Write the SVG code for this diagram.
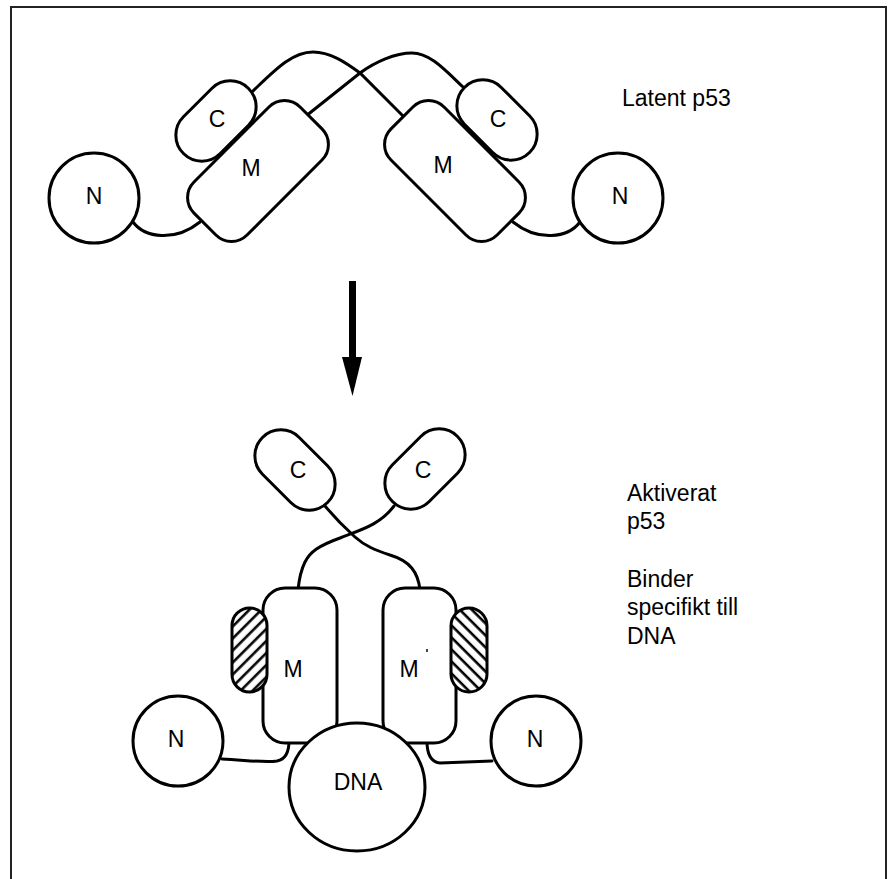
<svg xmlns="http://www.w3.org/2000/svg" width="890" height="879" viewBox="0 0 890 879">
<style>
.shape{fill:#fff;stroke:#000;stroke-width:3}
.line{fill:none;stroke:#000;stroke-width:3;stroke-linecap:round}
.lbl{font-family:"Liberation Sans",Arial,Helvetica,sans-serif;font-size:23px;fill:#000;text-anchor:middle}
.txt{font-family:"Liberation Sans",Arial,Helvetica,sans-serif;font-size:23px;fill:#000}
</style>
<defs>
<pattern id="hatchL" patternUnits="userSpaceOnUse" width="8.5" height="8.5" patternTransform="rotate(-45)">
<rect width="8.5" height="8.5" fill="#fff"/>
<line x1="0" y1="4" x2="8.5" y2="4" stroke="#000" stroke-width="2.6"/>
</pattern>
<pattern id="hatchR" patternUnits="userSpaceOnUse" width="8.5" height="8.5" patternTransform="rotate(45)">
<rect width="8.5" height="8.5" fill="#fff"/>
<line x1="0" y1="4" x2="8.5" y2="4" stroke="#000" stroke-width="2.6"/>
</pattern>
</defs>
<rect x="11" y="7" width="875" height="880" fill="#fff" stroke="#222" stroke-width="2"/>

<g id="connectors">
<path class="line" d="M133,222 C145,238 175,242 200,222"/>
<path class="line" d="M580,222 C568,238 538,242 513,222"/>
<path class="line" d="M253,91 C275,70 292,52 313,52 C330,52 345,62 360,73 L404,117"/>
<path class="line" d="M306,116 L360,73 C375,62 395,53 412,53 C430,53 445,70 463,87"/>
<path class="line" d="M325,506 C335,518 345,528 355,537 C365,546 375,550 390,555 C410,561 418,572 420,590"/>
<path class="line" d="M394,506 C380,525 360,530 340,538 C318,546 310,552 305,562 C301,570 299,580 298,590"/>
<path class="line" d="M222,759 C245,760 265,763 277,761 C287,759 289,750 289,741"/>
<path class="line" d="M427,741 C427,753 430,762 440,763 L492,761"/>
<g id="arrow">
<rect x="349" y="281" width="7" height="78" fill="#000"/>
<polygon points="342,357 362,357 352.5,396" fill="#000"/>
</g>
</g>

<g id="latent-N-left"><circle class="shape" cx="94" cy="198" r="45"/><text class="lbl" x="94" y="204">N</text></g>
<g id="latent-C-left"><rect class="shape" x="-46" y="-26" width="92" height="52" rx="26" transform="translate(216,121) rotate(-45)"/><text class="lbl" x="217" y="127">C</text></g>
<g id="latent-M-left"><rect class="shape" x="-75" y="-37.5" width="150" height="75" rx="22" transform="translate(258,171) rotate(-45)"/><text class="lbl" x="251" y="176">M</text></g>
<g id="latent-C-right"><rect class="shape" x="-46" y="-26" width="92" height="52" rx="26" transform="translate(497,120) rotate(45)"/><text class="lbl" x="498" y="127">C</text></g>
<g id="latent-M-right"><rect class="shape" x="-75" y="-37.5" width="150" height="75" rx="22" transform="translate(455,171) rotate(45)"/><text class="lbl" x="443" y="173">M</text></g>
<g id="latent-N-right"><circle class="shape" cx="618" cy="198" r="45"/><text class="lbl" x="620" y="204">N</text></g>

<g id="active-C-left"><rect class="shape" x="-46" y="-26" width="92" height="52" rx="26" transform="translate(295,470) rotate(45)"/><text class="lbl" x="298" y="478">C</text></g>
<g id="active-C-right"><rect class="shape" x="-46" y="-26" width="92" height="52" rx="26" transform="translate(425,469) rotate(-45)"/><text class="lbl" x="423" y="478">C</text></g>
<g id="active-M-left"><rect class="shape" x="263" y="588" width="74" height="155" rx="22"/><text class="lbl" x="293" y="677">M</text></g>
<g id="active-M-right"><rect class="shape" x="383" y="588" width="73" height="155" rx="22"/><text class="lbl" x="409" y="677">M</text><rect x="426" y="649" width="2" height="3" fill="#444"/></g>
<g id="hatch-left"><rect x="232" y="608" width="35" height="84" rx="17.5" fill="url(#hatchL)" stroke="#000" stroke-width="3"/></g>
<g id="hatch-right"><rect x="451" y="608" width="36" height="84" rx="18" fill="url(#hatchR)" stroke="#000" stroke-width="3"/></g>
<g id="active-N-left"><circle class="shape" cx="178" cy="741" r="45"/><text class="lbl" x="176" y="747">N</text></g>
<g id="active-N-right"><circle class="shape" cx="536" cy="741" r="45"/><text class="lbl" x="535" y="747">N</text></g>
<g id="DNA"><ellipse class="shape" cx="357" cy="787" rx="68" ry="64"/><text class="lbl" x="358" y="790">DNA</text></g>

<g id="labels">
<text class="txt" x="622" y="106">Latent p53</text>
<text class="txt" x="627" y="501">Aktiverat</text>
<text class="txt" x="627" y="529">p53</text>
<text class="txt" x="627" y="587">Binder</text>
<text class="txt" x="627" y="615">specifikt till</text>
<text class="txt" x="627" y="644">DNA</text>
</g>
</svg>
